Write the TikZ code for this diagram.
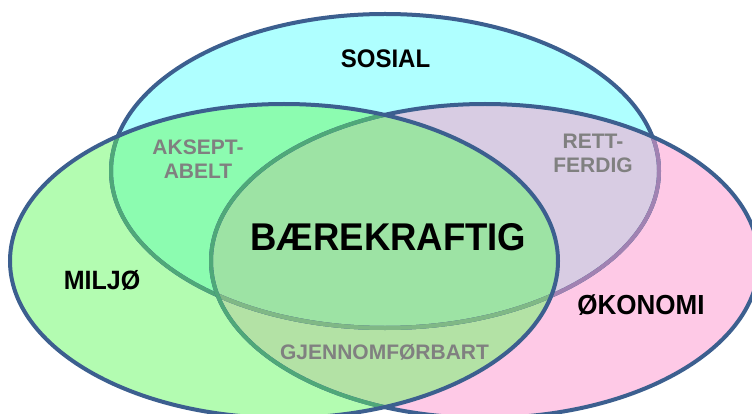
\documentclass[tikz,border=0pt]{standalone}
\usepackage{fontspec}
\setmainfont{Liberation Sans}
\definecolor{cyanF}{HTML}{AFFFFF}
\definecolor{pinkF}{HTML}{FEC9E6}
\definecolor{greenF}{HTML}{B3FCB1}
\definecolor{mintF}{HTML}{8CFCB0}
\definecolor{lavF}{HTML}{D8CCE3}
\definecolor{oliveF}{HTML}{B3E2A5}
\definecolor{centF}{HTML}{9DE3A4}
\definecolor{blueL}{HTML}{3C5F8F}
\definecolor{greenL}{HTML}{4FA879}
\definecolor{grayGL}{HTML}{80B886}
\definecolor{purpL}{HTML}{A182B2}
\definecolor{labgray}{HTML}{808080}
\newcommand\ET{(cT) ellipse [x radius=274pt, y radius=157pt]}
\newcommand\EL{(cL) ellipse [x radius=274pt, y radius=157pt]}
\newcommand\ER{(cR) ellipse [x radius=274pt, y radius=157pt]}
\tikzset{
  outl/.style={line width=4pt},
  mainlbl/.style={font=\bfseries\fontsize{25}{30}\selectfont, text=black, anchor=base, inner sep=0pt, yscale=1.06},
  sublbl/.style={font=\bfseries\fontsize{21}{24}\selectfont, text=labgray, anchor=base, inner sep=0pt},
}
\begin{document}
\begin{tikzpicture}[x=1pt, y=-1pt]
\useasboundingbox (0,0) rectangle (752,414);
\coordinate (cT) at (385,171);
\coordinate (cL) at (284,261);
\coordinate (cR) at (485,261);
% fills
\fill[cyanF] \ET;
\fill[pinkF] \ER;
\fill[greenF] \EL;
\begin{scope}\clip \ET; \fill[mintF] \EL; \fill[lavF] \ER; \end{scope}
\begin{scope}\clip \EL; \fill[oliveF] \ER; \end{scope}
\begin{scope}\clip \ET; \clip \EL; \fill[centF] \ER; \end{scope}
% outlines
\draw[outl, blueL] \ET;
\begin{scope}\clip \ER; \draw[outl, purpL] \ET; \end{scope}
\begin{scope}\clip \EL; \draw[outl, greenL] \ET; \end{scope}
\begin{scope}\clip \EL; \clip \ER; \draw[outl, grayGL] \ET; \end{scope}
\draw[outl, blueL] \ER;
\begin{scope}\clip \EL; \draw[outl, greenL] \ER; \end{scope}
\draw[outl, blueL] \EL;
% labels
\node[mainlbl, font=\bfseries\fontsize{24}{28}\selectfont] (sosial) at (385.5,68) {SOSIAL};
\node[mainlbl] (miljo) at (102,289.5) {MILJØ};
\node[mainlbl, font=\bfseries\fontsize{26}{30}\selectfont] (okonomi) at (641,314.5) {ØKONOMI};
\node[mainlbl, font=\bfseries\fontsize{36.5}{40}\selectfont] (baere) at (388.5,250) {BÆREKRAFTIG};
\node[sublbl] (aks1) at (198,155) {AKSEPT-};
\node[sublbl] (aks2) at (198,179) {ABELT};
\node[sublbl] (rett1) at (593,149) {RETT-};
\node[sublbl] (rett2) at (593,173) {FERDIG};
\node[sublbl] (gjen) at (384.5,359) {GJENNOMFØRBART};
\end{tikzpicture}
\end{document}
